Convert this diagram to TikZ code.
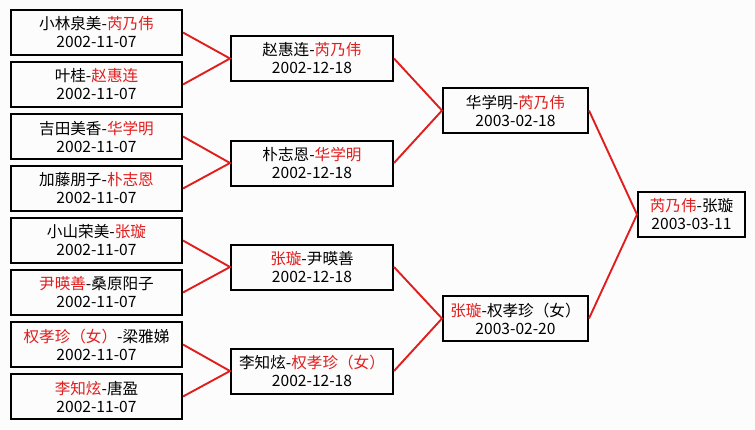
\documentclass[tikz,border=0pt]{standalone}
\usepackage{fontspec}
\setmainfont{Noto Sans CJK SC}
\definecolor{rd}{RGB}{225,30,30}
\definecolor{bg}{RGB}{252,252,252}
\newcommand{\R}[1]{\textcolor{rd}{#1}}
\begin{document}
\begin{tikzpicture}[x=1pt,y=-1pt,
  box/.style={draw=black, line width=2pt, inner sep=0pt, minimum height=45pt, align=center, font=\fontsize{15.6}{18}\selectfont},
  c1/.style={box, minimum width=171pt},
  c2/.style={box, minimum width=162pt},
  c3/.style={box, minimum width=145pt},
  c4/.style={box, minimum width=107pt},
  conn/.style={draw=rd, line width=1.9pt}]
\fill[bg] (0,0) rectangle (755,429);
\useasboundingbox (0,0) rectangle (755,429);
% column 1
\node[c1] (a1) at (96.5,32.5)  {小林泉美-\R{芮乃伟}\\2002-11-07};
\node[c1] (a2) at (96.5,84.5)  {叶桂-\R{赵惠连}\\2002-11-07};
\node[c1] (a3) at (96.5,136.5) {吉田美香-\R{华学明}\\2002-11-07};
\node[c1] (a4) at (96.5,188.5) {加藤朋子-\R{朴志恩}\\2002-11-07};
\node[c1] (a5) at (96.5,240.5) {小山荣美-\R{张璇}\\2002-11-07};
\node[c1] (a6) at (96.5,292.5) {\R{尹暎善}-桑原阳子\\2002-11-07};
\node[c1] (a7) at (96.5,344.5) {\R{权孝珍（女）}-梁雅娣\\2002-11-07};
\node[c1] (a8) at (96.5,396.5) {\R{李知炫}-唐盈\\2002-11-07};
% column 2
\node[c2] (b1) at (312,58.5)  {赵惠连-\R{芮乃伟}\\2002-12-18};
\node[c2] (b2) at (312,163)   {朴志恩-\R{华学明}\\2002-12-18};
\node[c2] (b3) at (312,267)   {\R{张璇}-尹暎善\\2002-12-18};
\node[c2] (b4) at (312,371)   {李知炫-\R{权孝珍（女）}\\2002-12-18};
% column 3
\node[c3] (d1) at (515.5,110.5) {华学明-\R{芮乃伟}\\2003-02-18};
\node[c3] (d2) at (515.5,318.5) {\R{张璇}-权孝珍（女）\\2003-02-20};
% column 4
\node[c4] (f) at (691.5,214.5) {\R{芮乃伟}-张璇\\2003-03-11};
% connectors
\draw[conn] (a1.east) -- (b1.west) -- (a2.east);
\draw[conn] (a3.east) -- (b2.west) -- (a4.east);
\draw[conn] (a5.east) -- (b3.west) -- (a6.east);
\draw[conn] (a7.east) -- (b4.west) -- (a8.east);
\draw[conn] (b1.east) -- (d1.west) -- (b2.east);
\draw[conn] (b3.east) -- (d2.west) -- (b4.east);
\draw[conn] (d1.east) -- (f.west) -- (d2.east);
\end{tikzpicture}
\end{document}
